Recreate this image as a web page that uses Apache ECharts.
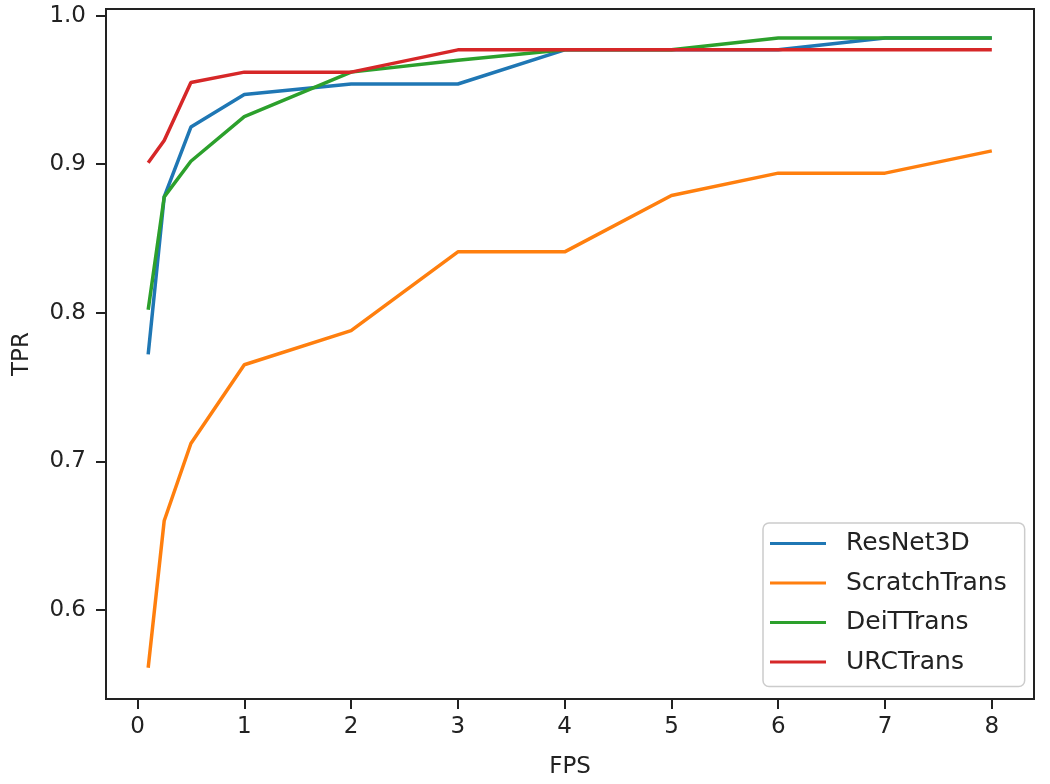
<!DOCTYPE html>
<html>
<head>
<meta charset="utf-8">
<script src="https://cdn.jsdelivr.net/npm/echarts@6/dist/echarts.min.js"></script>
<style>html,body{margin:0;padding:0;background:#fff;}#c{width:1050px;height:784px;}</style>
</head>
<body>
<div id="c"></div>
<script>
const fps = [0.1, 0.25, 0.5, 1, 2, 3, 4, 5, 6, 7, 8];
const resnet3d = [0.772, 0.878, 0.925, 0.947, 0.954, 0.954, 0.977, 0.977, 0.977, 0.985, 0.985];
const scratchTrans = [0.561, 0.660, 0.712, 0.765, 0.788, 0.841, 0.841, 0.879, 0.894, 0.894, 0.909];
const deitTrans = [0.802, 0.878, 0.902, 0.932, 0.962, 0.970, 0.977, 0.977, 0.985, 0.985, 0.985];
const urcTrans = [0.901, 0.916, 0.955, 0.962, 0.962, 0.977, 0.977, 0.977, 0.977, 0.977, 0.977];
const xTicks = [0, 1, 2, 3, 4, 5, 6, 7, 8];
const yTicks = [0.6, 0.7, 0.8, 0.9, 1.0];

const names = ['ResNet3D', 'ScratchTrans', 'DeiTTrans', 'URCTrans'];
const values = [resnet3d, scratchTrans, deitTrans, urcTrans];
const colors = ['#1f77b4', '#ff7f0e', '#2ca02c', '#d62728'];
const font = 'DejaVu Sans';
const axisColor = '#222';

const chart = echarts.init(document.getElementById('c'));
chart.setOption({
  animation: false,
  backgroundColor: '#fff',
  textStyle: { fontFamily: font },
  grid: {
    left: 106, right: 16, top: 9, bottom: 85,
    show: true, borderColor: axisColor, borderWidth: 2, backgroundColor: 'transparent'
  },
  xAxis: {
    type: 'value', min: -0.295, max: 8.395,
    name: 'FPS', nameLocation: 'middle', nameGap: 57,
    nameTextStyle: { fontSize: 23, color: axisColor, fontFamily: font },
    splitLine: { show: false },
    axisLine: { show: true, onZero: false, lineStyle: { color: axisColor, width: 2 } },
    axisTick: { show: true, length: 10, customValues: xTicks, lineStyle: { color: axisColor, width: 2 } },
    axisLabel: { customValues: xTicks, fontSize: 23, color: axisColor, margin: 17, fontFamily: font,
      formatter: v => String(Math.round(v)) }
  },
  yAxis: {
    type: 'value', min: 0.5400, max: 1.0045,
    name: 'TPR', nameLocation: 'middle', nameGap: 72,
    nameTextStyle: { fontSize: 23, color: axisColor, fontFamily: font },
    splitLine: { show: false },
    axisLine: { show: true, onZero: false, lineStyle: { color: axisColor, width: 2 } },
    axisTick: { show: true, length: 10, customValues: yTicks, lineStyle: { color: axisColor, width: 2 } },
    axisLabel: { customValues: yTicks, fontSize: 23, color: axisColor, margin: 20, fontFamily: font,
      formatter: v => v.toFixed(1) }
  },
  legend: {
    left: 763, top: 523,
    orient: 'vertical',
    padding: [8, 18, 12, 7],
    itemWidth: 56, itemHeight: 3, itemGap: 14.5,
    icon: 'rect',
    backgroundColor: '#fff',
    borderColor: '#cccccc', borderWidth: 1.5, borderRadius: 6,
    textStyle: { fontSize: 25, color: '#222', fontFamily: font, padding: [0, 0, 0, 15] },
    data: names
  },
  series: names.map((n, i) => ({
    name: n,
    type: 'line',
    symbol: 'none',
    showSymbol: false,
    color: colors[i],
    lineStyle: { width: 3.5, color: colors[i] },
    data: fps.map((x, j) => [x, values[i][j]])
  }))
});
</script>
</body>
</html>
